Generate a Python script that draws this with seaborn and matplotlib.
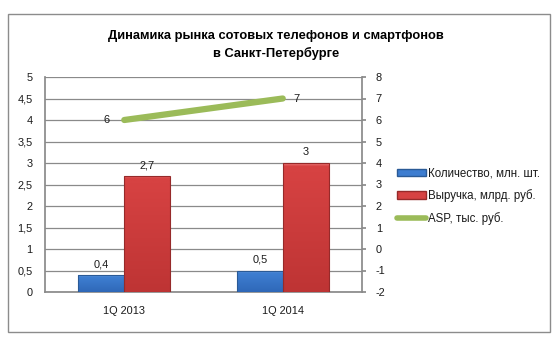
import numpy as np
import pandas as pd
import matplotlib
matplotlib.use("Agg")
import matplotlib.pyplot as plt
from matplotlib.patches import Patch, Rectangle
from matplotlib.lines import Line2D
from matplotlib.ticker import FuncFormatter, MultipleLocator
from matplotlib.colors import LinearSegmentedColormap, to_rgb
import seaborn as sns

quarters = ["1Q 2013", "1Q 2014"]
units_mln = [0.4, 0.5]
revenue_bln = [2.7, 3.0]
asp_thousand = [6, 7]
series_names = ["Количество, млн. шт.", "Выручка, млрд. руб.", "ASP, тыс. руб."]
title = "Динамика рынка сотовых телефонов и смартфонов\nв Санкт-Петербурге"

sns.set_theme(style="white")
plt.rcParams["font.family"] = ["Liberation Sans", "DejaVu Sans"]
plt.rcParams["axes.unicode_minus"] = False

# (bottom, middle, top) shades and outline for each bar series
blue_shades, blue_edge = ("#2F68B8", "#3D7DD0", "#7AAEEA"), "#2A5A96"
red_shades, red_edge = ("#BE3434", "#D64242", "#EE7A7A"), "#962A2A"
blue, red = blue_shades[1], red_shades[1]
green = "#9BBB59"
grid_c = "#8A8A8A"
txt_c = "#1A1A1A"
fs = 7.9

bars = pd.DataFrame({
    "quarter": quarters * 2,
    "value": units_mln + revenue_bln,
    "series": [series_names[0]] * len(quarters) + [series_names[1]] * len(quarters),
})

fig = plt.figure(figsize=(5.55, 3.46), dpi=100)
ax = fig.add_axes([45 / 555, 1 - 292 / 346, (362 - 45) / 555, (292 - 77) / 346])

sns.barplot(data=bars, x="quarter", y="value", hue="series",
            palette=[blue, red], width=0.58, ax=ax, legend=False,
            saturation=1, errorbar=None, zorder=3)

ax.set_ylim(0, 5)
ax.set_xlim(-0.5, 1.5)

# shaded fill for each bar: bright top rim, darker toward the base
for p in list(ax.patches):
    is_blue = np.allclose(p.get_facecolor()[:3], to_rgb(blue))
    (lo, mid, hi), edge = (blue_shades, blue_edge) if is_blue else (red_shades, red_edge)
    x0, y0 = p.get_x(), p.get_y()
    w, h = p.get_width(), p.get_height()
    px_h = h / 5 * 215
    rim = min(0.35, 3.0 / max(px_h, 1))
    cmap = LinearSegmentedColormap.from_list(
        "bar", [(0, lo), (1 - rim - 0.05, mid), (1 - rim, mid), (1, hi)])
    grad = np.linspace(1, 0, 256).reshape(-1, 1)
    im = ax.imshow(grad, cmap=cmap, aspect="auto", extent=(x0, x0 + w, y0, y0 + h),
                   origin="upper", zorder=3.1, vmin=0, vmax=1)
    im.set_clip_path(p)
    p.set_edgecolor(edge)
    p.set_linewidth(0.8)
    p.set_zorder(3.2)
    p.set_facecolor("none")

ax.set_xlim(-0.5, 1.5)
ax.set_ylim(0, 5)

fmt = lambda v: f"{v:g}".replace(".", ",")
for cont in ax.containers:
    ax.bar_label(cont, labels=[fmt(v) for v in cont.datavalues], padding=4,
                 fontsize=fs, color=txt_c)

ax.yaxis.set_major_locator(MultipleLocator(0.5))
ax.yaxis.set_major_formatter(FuncFormatter(lambda v, _: fmt(round(v, 2))))
ax.grid(axis="y", color=grid_c, linewidth=0.9, zorder=0)
ax.set_axisbelow(True)
ax.set_xlabel("")
ax.set_ylabel("")
for s in ["top", "right"]:
    ax.spines[s].set_visible(False)
ax.spines["left"].set_color(grid_c)
ax.spines["bottom"].set_color(grid_c)
ax.tick_params(axis="y", length=0, pad=9, labelsize=fs, colors=txt_c)
ax.tick_params(axis="x", length=0, pad=10, labelsize=fs, colors=txt_c)

ax2 = ax.twinx()
xpos = np.arange(len(quarters))
sns.lineplot(x=xpos, y=asp_thousand, ax=ax2, color=green, linewidth=4.5,
             solid_capstyle="round", zorder=4)
ax2.set_ylim(-2, 8)
ax2.yaxis.set_major_locator(MultipleLocator(1))
ax2.tick_params(axis="y", length=3, direction="out", pad=7, labelsize=fs,
                colors=txt_c, color=grid_c, right=True)
for s in ["top", "left", "bottom"]:
    ax2.spines[s].set_visible(False)
ax2.spines["right"].set_color(grid_c)
ax2.set_xlim(-0.5, 1.5)
ax2.text(xpos[0] - 0.09, asp_thousand[0], fmt(asp_thousand[0]), ha="right",
         va="center", fontsize=fs, color=txt_c)
ax2.text(xpos[1] + 0.07, asp_thousand[1], fmt(asp_thousand[1]), ha="left",
         va="center", fontsize=fs, color=txt_c)

handles = [
    Patch(facecolor=blue, edgecolor=blue_edge),
    Patch(facecolor=red, edgecolor=red_edge),
    Line2D([0], [0], color=green, linewidth=4, solid_capstyle="round"),
]
fig.legend(handles, series_names, loc="upper left",
           bbox_to_anchor=(387 / 555, 1 - 157 / 346), frameon=False,
           fontsize=8.3, handlelength=2.5, handleheight=0.6, handletextpad=0.15,
           labelspacing=0.85, labelcolor=txt_c)

fig.text(276 / 555, 1 - 45 / 346, title, ha="center", va="center",
         fontsize=9.3, fontweight="bold", color="black", linespacing=1.5)

fig.patches.append(Rectangle((8 / 555, 1 - 332 / 346), (550 - 8) / 555,
                             (332 - 14) / 346, transform=fig.transFigure,
                             fill=False, edgecolor="#8C8C8C", linewidth=1))

fig.savefig("out.png", dpi=100, facecolor="white")
